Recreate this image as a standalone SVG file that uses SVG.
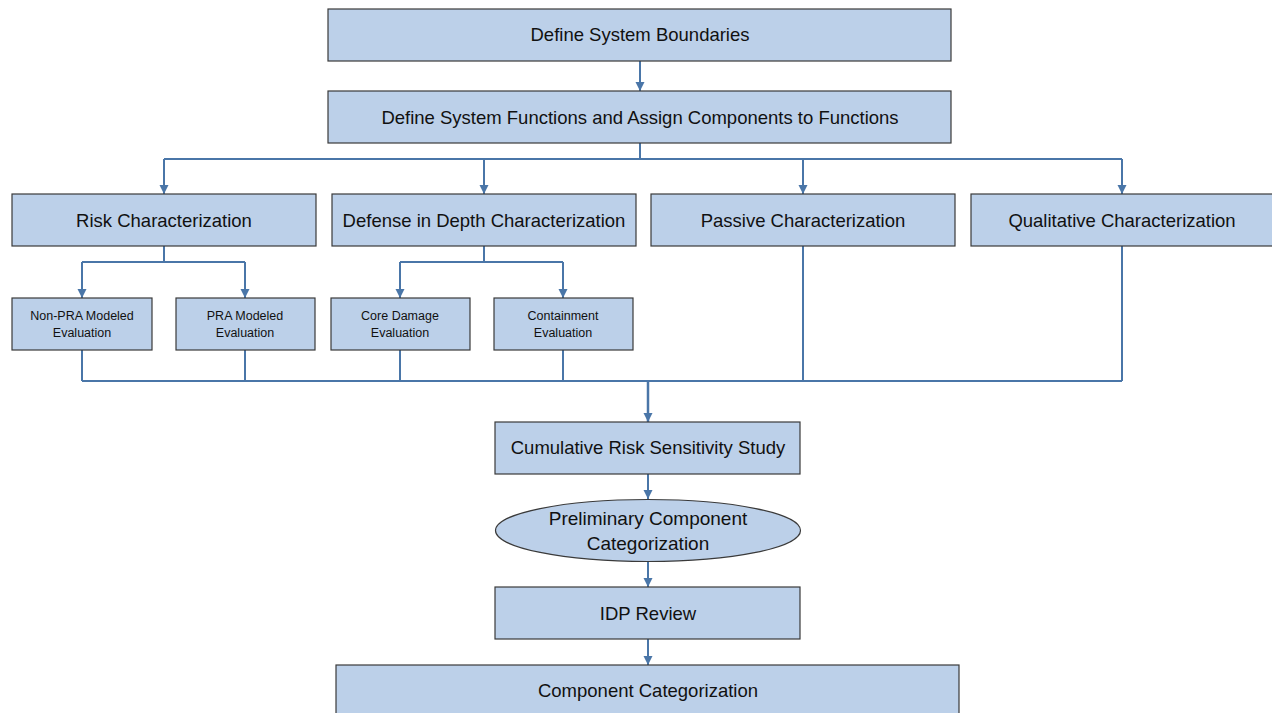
<svg xmlns="http://www.w3.org/2000/svg" width="1272" height="713" viewBox="0 0 1272 713">
<defs>
<marker id="ah" markerUnits="userSpaceOnUse" markerWidth="10" markerHeight="10" refX="9" refY="4.5" orient="auto">
<path d="M0,0 L9,4.5 L0,9 z" fill="#4a76a8"/>
</marker>
<style>
.box{fill:#bcd0e9;stroke:#3a3a3a;stroke-width:1.2}
.t{font-family:"Liberation Sans",Arial,sans-serif;font-size:18.5px;fill:#111;text-anchor:middle}
.e{font-family:"Liberation Sans",Arial,sans-serif;font-size:19px;fill:#111;text-anchor:middle}
.s{font-family:"Liberation Sans",Arial,sans-serif;font-size:12.5px;fill:#111;text-anchor:middle}
.c{fill:none;stroke:#4a76a8;stroke-width:2}
.a{marker-end:url(#ah)}
</style>
</defs>
<rect width="1272" height="713" fill="#fff"/>
<g id="connectors">
<path class="c a" d="M640,61 V91"/>
<path class="c" d="M640,143 V159"/>
<path class="c" d="M164,159 H1122"/>
<path class="c a" d="M164,159 V194"/>
<path class="c a" d="M484,159 V194"/>
<path class="c a" d="M803,159 V194"/>
<path class="c a" d="M1122,159 V194"/>
<path class="c" d="M164,246 V262 M82,262 H245 M484,246 V262 M400,262 H563"/>
<path class="c a" d="M82,262 V298"/>
<path class="c a" d="M245,262 V298"/>
<path class="c a" d="M400,262 V298"/>
<path class="c a" d="M563,262 V298"/>
<path class="c" d="M82,350 V381 M245,350 V381 M400,350 V381 M563,350 V381 M803,246 V381 M1122,246 V381 M82,381 H1122"/>
<path class="c a" d="M648,381 V422" style="stroke-width:2.5"/>
<path class="c a" d="M648,474 V499"/>
<path class="c a" d="M648,562 V587"/>
<path class="c a" d="M648,639 V665"/>
</g>
<g id="n-boundaries"><rect class="box" x="328" y="9" width="623" height="52"/><text class="t" x="640" y="41">Define System Boundaries</text></g>
<g id="n-functions"><rect class="box" x="328" y="91" width="623" height="52"/><text class="t" x="640" y="124">Define System Functions and Assign Components to Functions</text></g>
<g id="n-risk"><rect class="box" x="12" y="194" width="304" height="52"/><text class="t" x="164" y="227">Risk Characterization</text></g>
<g id="n-did"><rect class="box" x="332" y="194" width="304" height="52"/><text class="t" x="484" y="227">Defense in Depth Characterization</text></g>
<g id="n-passive"><rect class="box" x="651" y="194" width="304" height="52"/><text class="t" x="803" y="227">Passive Characterization</text></g>
<g id="n-qual"><rect class="box" x="971" y="194" width="304" height="52"/><text class="t" x="1122" y="227">Qualitative Characterization</text></g>
<g id="n-nonpra"><rect class="box" x="12" y="298" width="140" height="52"/><text class="s" x="82" y="320">Non-PRA Modeled</text><text class="s" x="82" y="337">Evaluation</text></g>
<g id="n-pra"><rect class="box" x="176" y="298" width="139" height="52"/><text class="s" x="245" y="320">PRA Modeled</text><text class="s" x="245" y="337">Evaluation</text></g>
<g id="n-core"><rect class="box" x="331" y="298" width="139" height="52"/><text class="s" x="400" y="320">Core Damage</text><text class="s" x="400" y="337">Evaluation</text></g>
<g id="n-cont"><rect class="box" x="494" y="298" width="139" height="52"/><text class="s" x="563" y="320">Containment</text><text class="s" x="563" y="337">Evaluation</text></g>
<g id="n-cumulative"><rect class="box" x="495" y="422" width="305" height="52"/><text class="t" x="648" y="454">Cumulative Risk Sensitivity Study</text></g>
<g id="n-prelim"><ellipse class="box" cx="648" cy="530.5" rx="152.5" ry="31"/><text class="e" x="648" y="525">Preliminary Component</text><text class="e" x="648" y="550">Categorization</text></g>
<g id="n-idp"><rect class="box" x="495" y="587" width="305" height="52"/><text class="t" x="648" y="620">IDP Review</text></g>
<g id="n-final"><rect class="box" x="336" y="665" width="623" height="52"/><text class="t" x="648" y="697">Component Categorization</text></g>
</svg>
